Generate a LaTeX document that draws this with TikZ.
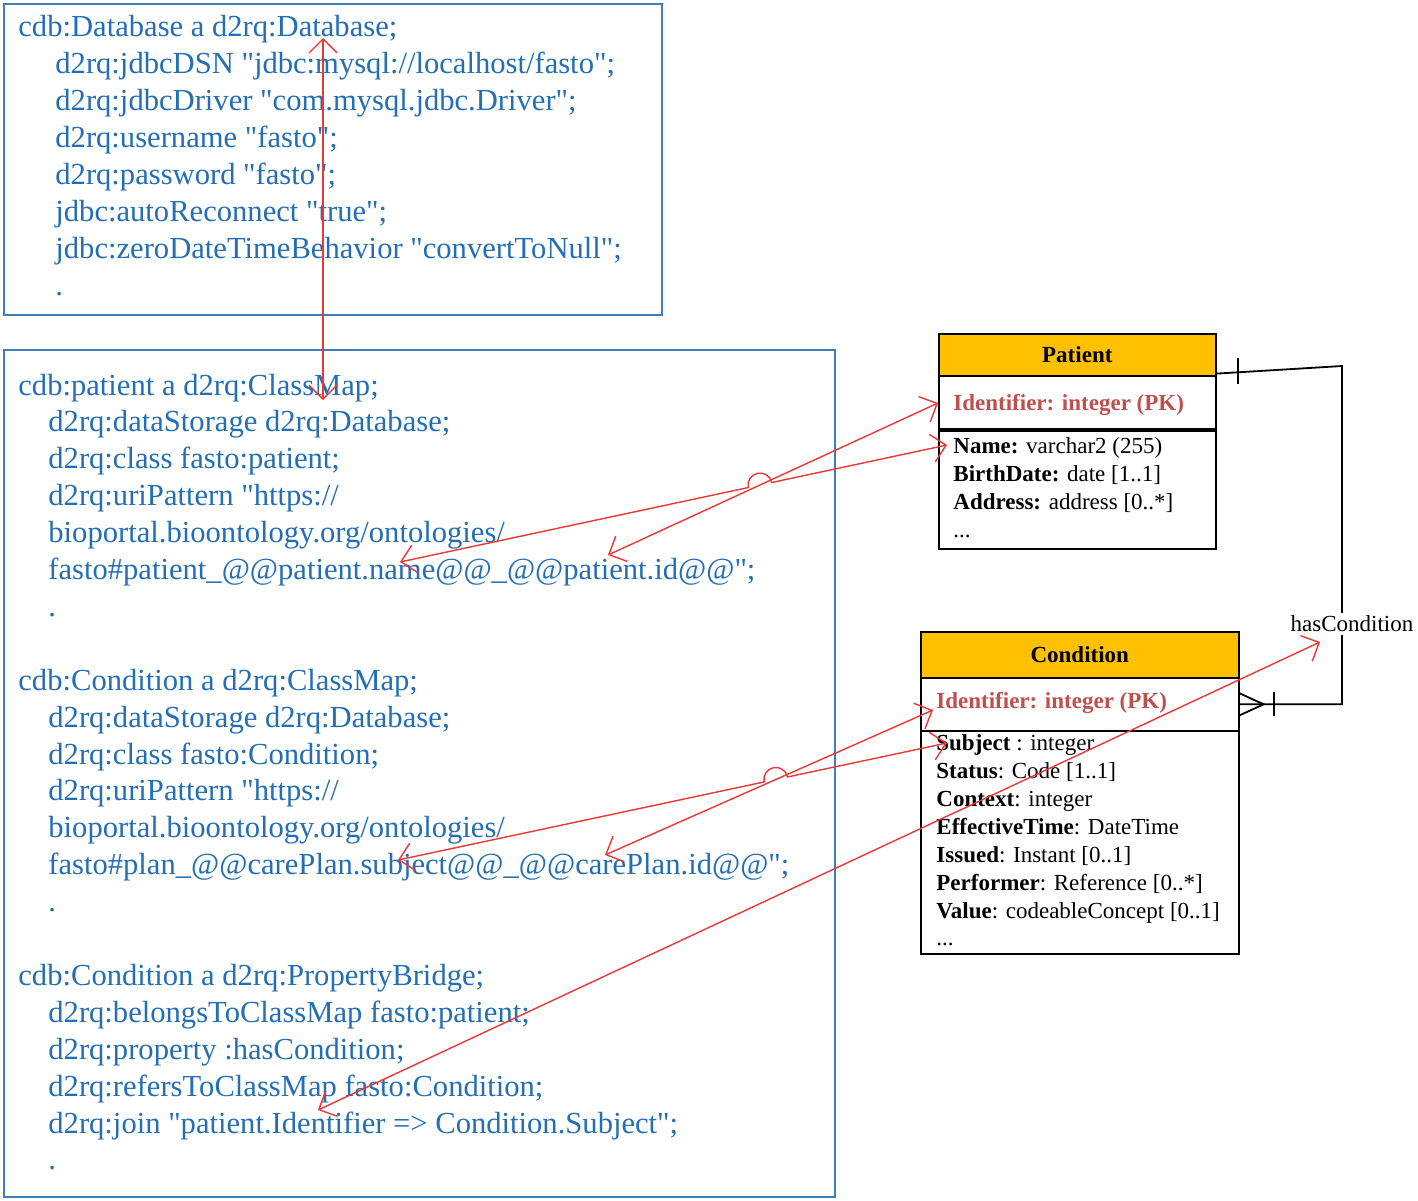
\documentclass[tikz,border=0pt]{standalone}
\usepackage{fontspec}
\setmainfont{Liberation Serif}[Ligatures=TeXOff]
\usetikzlibrary{arrows.meta,calc}
\definecolor{codeblue}{RGB}{35,110,180}
\definecolor{boxblue}{RGB}{65,125,185}
\definecolor{hdr}{RGB}{255,192,0}
\definecolor{pkred}{RGB}{192,80,77}
\definecolor{lnred}{RGB}{235,55,55}
\begin{document}
\begin{tikzpicture}[x=0.5pt,y=0.5pt,
 code/.style={font=\fontsize{15.3}{18}\selectfont, text=codeblue, inner sep=0pt, anchor=base west},
 attr/.style={font=\fontsize{11.5}{14}\selectfont, inner sep=0pt, anchor=base west},
 pk/.style={font=\fontsize{11.5}{14}\selectfont\bfseries, text=pkred, inner sep=0pt, anchor=base west},
 blk/.style={draw=boxblue, line width=0.75pt, anchor=north west, inner sep=0pt},
 tbl/.style={draw=black, line width=0.8pt, anchor=north west, inner sep=0pt},
 redarr/.style={draw=lnred, line width=0.7pt, {Straight Barb[length=7pt,width=14pt]}-{Straight Barb[length=7pt,width=14pt]}},
 erline/.style={draw=black, line width=0.9pt}]
\useasboundingbox[fill=white] (0,0) rectangle (1418,-1200);

% ---------- code blocks ----------
\node[blk, minimum width=329pt, minimum height=155.5pt] (blkA) at (3,-3) {};
\node[blk, minimum width=415.5pt, minimum height=423.5pt] (blkB) at (3,-349) {};

\node[code] (db1) at (18,-36) {cdb:Database a d2rq:Database;};
\node[code] (db2) at (55,-73) {d2rq:jdbcDSN "jdbc:mysql://localhost/fasto";};
\node[code] (db3) at (55,-110) {d2rq:jdbcDriver "com.mysql.jdbc.Driver";};
\node[code] (db4) at (55,-147) {d2rq:username "fasto";};
\node[code] (db5) at (55,-184) {d2rq:password "fasto";};
\node[code] (db6) at (55,-221) {jdbc:autoReconnect "true";};
\node[code] (db7) at (55,-258) {jdbc:zeroDateTimeBehavior "convertToNull";};
\node[code] (db8) at (55,-295) {.};

\node[code] (p0) at (18,-395) {cdb:patient a d2rq:ClassMap;};
\node[code] (p1) at (48,-431.9) {d2rq:dataStorage d2rq:Database;};
\node[code] (p2) at (48,-468.8) {d2rq:class fasto:patient;};
\node[code] (p3) at (48,-505.7) {d2rq:uriPattern "https://};
\node[code] (p4) at (48,-542.6) {bioportal.bioontology.org/ontologies/};
\node[code] (p5) at (48,-579.5) {fasto\#patient\_@@patient.name@@\_@@patient.id@@";};
\node[code] (p6) at (48,-616.4) {.};

\node[code] (p8) at (18,-690.2) {cdb:Condition a d2rq:ClassMap;};
\node[code] (p9) at (48,-727.1) {d2rq:dataStorage d2rq:Database;};
\node[code] (p10) at (48,-764) {d2rq:class fasto:Condition;};
\node[code] (p11) at (48,-800.9) {d2rq:uriPattern "https://};
\node[code] (p12) at (48,-837.8) {bioportal.bioontology.org/ontologies/};
\node[code] (p13) at (48,-874.7) {fasto\#plan\_@@carePlan.subject@@\_@@carePlan.id@@";};
\node[code] (p14) at (48,-911.6) {.};

\node[code] (p16) at (18,-985.4) {cdb:Condition a d2rq:PropertyBridge;};
\node[code] (p17) at (48,-1022.3) {d2rq:belongsToClassMap fasto:patient;};
\node[code] (p18) at (48,-1059.2) {d2rq:property :hasCondition;};
\node[code] (p19) at (48,-1096.1) {d2rq:refersToClassMap fasto:Condition;};
\node[code] (p20) at (48,-1133) {d2rq:join "patient.Identifier => Condition.Subject";};
\node[code] (p21) at (48,-1169.9) {.};

% ---------- Patient table ----------
\node[tbl, fill=hdr, minimum width=138.5pt, minimum height=21pt, font=\fontsize{11.5}{14}\selectfont\bfseries] (ph) at (938,-333) {Patient};
\node[tbl, minimum width=138.5pt, minimum height=27.5pt] (pid) at (938,-375) {};
\node[tbl, minimum width=138.5pt, minimum height=59pt] (pat) at (938,-430) {};
\draw[line width=1.6pt] (pat.north west) -- (pat.north east);
\node[pk] (pidt) at (953,-410) {Identifier: integer (PK)};
\node[attr] (pa1) at (953,-453) {\textbf{Name:} varchar2 (255)};
\node[attr] (pa2) at (953,-481) {\textbf{BirthDate:} date [1..1]};
\node[attr] (pa3) at (953,-509) {\textbf{Address:} address [0..*]};
\node[attr] (pa4) at (953,-537) {...};

% ---------- Condition table ----------
\node[tbl, fill=hdr, minimum width=159pt, minimum height=23pt, font=\fontsize{11.5}{14}\selectfont\bfseries] (ch) at (920,-631) {Condition};
\node[tbl, minimum width=159pt, minimum height=26.5pt] (cid) at (920,-677) {};
\node[tbl, minimum width=159pt, minimum height=111.5pt] (cat) at (920,-730) {};
\node[pk] (cidt) at (936,-708) {Identifier: integer (PK)};
\node[attr] (ca1) at (936,-750) {\textbf{Subject} : integer};
\node[attr] (ca2) at (936,-778) {\textbf{Status}: Code [1..1]};
\node[attr] (ca3) at (936,-806) {\textbf{Context}: integer};
\node[attr] (ca4) at (936,-834) {\textbf{EffectiveTime}: DateTime};
\node[attr] (ca5) at (936,-862) {\textbf{Issued}: Instant [0..1]};
\node[attr] (ca6) at (936,-890) {\textbf{Performer}: Reference [0..*]};
\node[attr] (ca7) at (936,-918) {\textbf{Value}: codeableConcept [0..1]};
\node[attr] (ca8) at (936,-945) {...};

% ---------- ER relationship ----------
\coordinate (rel) at (1342,-366);
\draw[erline] ($(ph.south east)+(0,3)$) -- (rel) |- (cid.east);
\draw[erline] (1238,-358) -- (1238,-384);
\draw[erline] ($(cid.east)+(0,11)$) -- ($(cid.east)+(24,0)$) -- ($(cid.east)+(0,-11)$);
\draw[erline] ($(cid.east)+(34,12)$) -- ($(cid.east)+(34,-12)$);
\node[fill=white, font=\fontsize{11.5}{14}\selectfont, inner sep=1.5pt] (hc) at (1352,-624) {hasCondition};

% ---------- red mapping arrows ----------
\coordinate (vtop) at (323,-38);
\coordinate (vbot) at (323,-400);
\draw[redarr] (vtop) -- (vbot);

\coordinate (ra1) at (400,-562);
\coordinate (ra2) at (947,-445);
\coordinate (rb1) at (608,-555);
\coordinate (rb2) at (938,-403);
\coordinate (xab) at (intersection of ra1--ra2 and rb1--rb2);
\draw[redarr] (rb1) -- (rb2);
\draw[redarr] (ra1) -- ($(xab)!6pt!(ra1)$) arc[start angle=192.07, end angle=12.07, radius=6pt] -- (ra2);

\coordinate (rc1) at (398,-860);
\coordinate (rc2) at (947,-743);
\coordinate (rd1) at (605,-855);
\coordinate (rd2) at (933,-710);
\coordinate (xcd) at (intersection of rc1--rc2 and rd1--rd2);
\draw[redarr] (rd1) -- (rd2);
\draw[redarr] (rc1) -- ($(xcd)!6pt!(rc1)$) arc[start angle=192.03, end angle=12.03, radius=6pt] -- (rc2);

\coordinate (re1) at (318,-1110);
\coordinate (re2) at (1320,-642);
\draw[redarr] (re1) -- (re2);
\end{tikzpicture}
\end{document}
